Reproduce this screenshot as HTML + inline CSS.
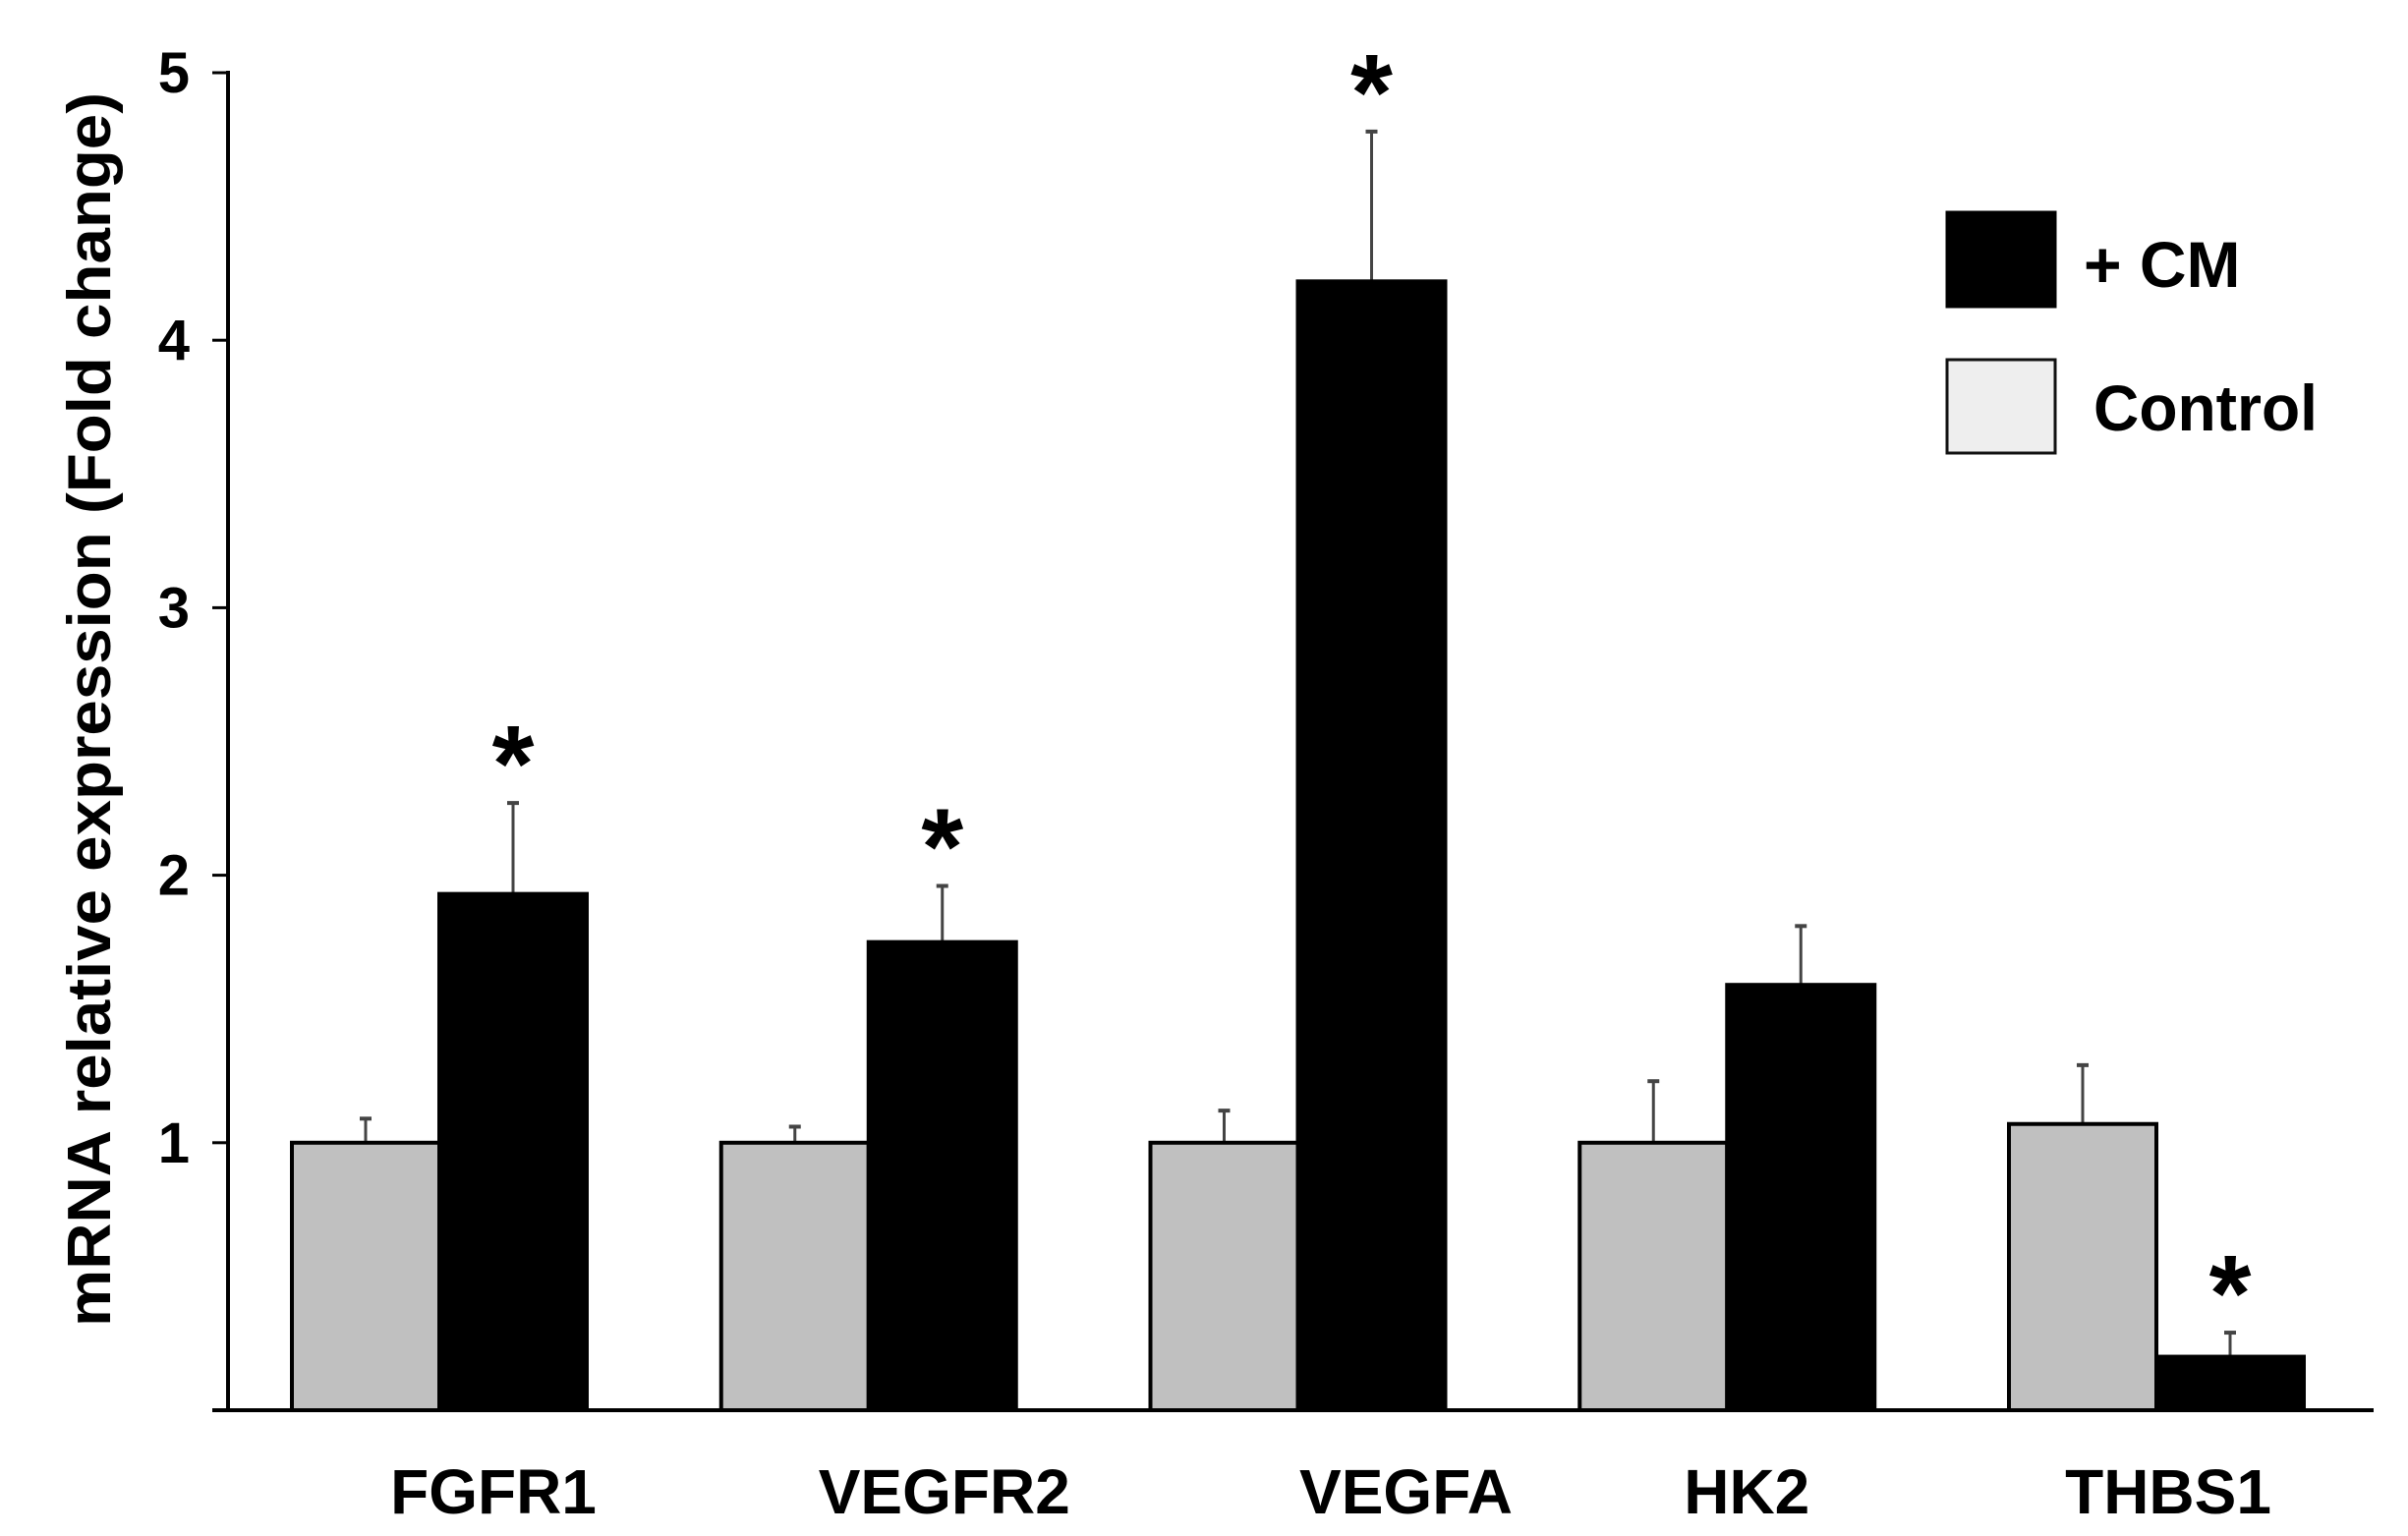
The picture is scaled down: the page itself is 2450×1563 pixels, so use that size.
<!DOCTYPE html>
<html><head><meta charset="utf-8">
<style>
html,body{margin:0;padding:0;background:#fff;}
svg{display:block;font-family:"Liberation Sans",Arial,sans-serif;font-weight:bold;}
</style></head>
<body>
<svg id="chart" width="2450" height="1563" viewBox="0 0 2450 1563" xmlns="http://www.w3.org/2000/svg">
<text x="0" y="0" transform="translate(112,722) rotate(-90)" text-anchor="middle" font-size="62" textLength="1256" lengthAdjust="spacingAndGlyphs">mRNA relative expression (Fold change)</text>
<g>
<rect x="1981" y="216" width="110" height="96" fill="#000" stroke="#000" stroke-width="3"/>
<text x="2120" y="292" font-size="66">+ CM</text>
<rect x="1981" y="366" width="110" height="95" fill="#eeeeee" stroke="#111" stroke-width="3"/>
<text x="2130" y="438" font-size="66" textLength="228" lengthAdjust="spacingAndGlyphs">Control</text>
</g>
<g id="plot"></g>
</svg>
<script>
const categories = ["FGFR1","VEGFR2","VEGFA","HK2","THBS1"];
const controlValues = [1.0, 1.0, 1.0, 1.0, 1.07];
const controlErrors = [0.09, 0.06, 0.12, 0.23, 0.22];
const cmValues = [1.93, 1.75, 4.22, 1.59, 0.20];
const cmErrors = [0.34, 0.21, 0.56, 0.22, 0.09];
const significant = [true, true, true, false, true];
const yTicks = [1, 2, 3, 4, 5];
const labelShift = [55, 77, 110, 20, 12];

const NS = "http://www.w3.org/2000/svg";
const plot = document.getElementById("plot");
const y0 = 1435, unit = 272.2;
const yScale = v => y0 - v * unit;
const groupStart = i => 297 + i * 436.75;
const barW = 150;

function mk(tag, attrs, parent) {
  const el = document.createElementNS(NS, tag);
  for (const k in attrs) el.setAttribute(k, attrs[k]);
  (parent || plot).appendChild(el);
  return el;
}

categories.forEach((c, i) => {
  const gx = groupStart(i);
  const g = mk("g", {});
  
  
  const pairs = [[controlValues[i], controlErrors[i], "#c0c0c0", gx, "control"], [cmValues[i], cmErrors[i], "#000", gx + barW, "cm"]];
  pairs.forEach(p => {
    const [v, e, fill, x, nm] = p;
    const cx = x + barW / 2;
    const ln = mk("line", {x1: cx, x2: cx, y1: yScale(v), y2: yScale(v + e), stroke: "#444", "stroke-width": 3}, g);
    
    
    const cap = mk("line", {x1: cx - 6, x2: cx + 6, y1: yScale(v + e), y2: yScale(v + e), stroke: "#444", "stroke-width": 4}, g);
    
    
    const r = mk("rect", {x: x, y: yScale(v), width: barW, height: y0 - yScale(v), fill: fill, stroke: "#000", "stroke-width": 4}, g);
    
    
  });
  if (significant[i]) {
    const t = mk("text", {x: gx + barW * 1.5, y: yScale(cmValues[i] + cmErrors[i]) - 2, "text-anchor": "middle", "font-size": 110}, g);
    t.textContent = "*";
    
    
  }
  const lab = mk("text", {x: gx + barW + labelShift[i], y: 1540, "text-anchor": "middle", "font-size": 64});
  lab.textContent = c;
  
  
});

const ya = mk("line", {x1: 232, x2: 232, y1: yScale(5) - 2, y2: y0 + 2, stroke: "#000", "stroke-width": 4});


const xa = mk("line", {x1: 216, x2: 2415, y1: y0, y2: y0, stroke: "#000", "stroke-width": 4});


yTicks.forEach(t => {
  const tk = mk("line", {x1: 216, x2: 232, y1: yScale(t), y2: yScale(t), stroke: "#000", "stroke-width": 3});
  
  
  const tl = mk("text", {x: 193, y: yScale(t) + 20, "text-anchor": "end", "font-size": 58});
  tl.textContent = t;
  
  
});
</script>
</body></html>
